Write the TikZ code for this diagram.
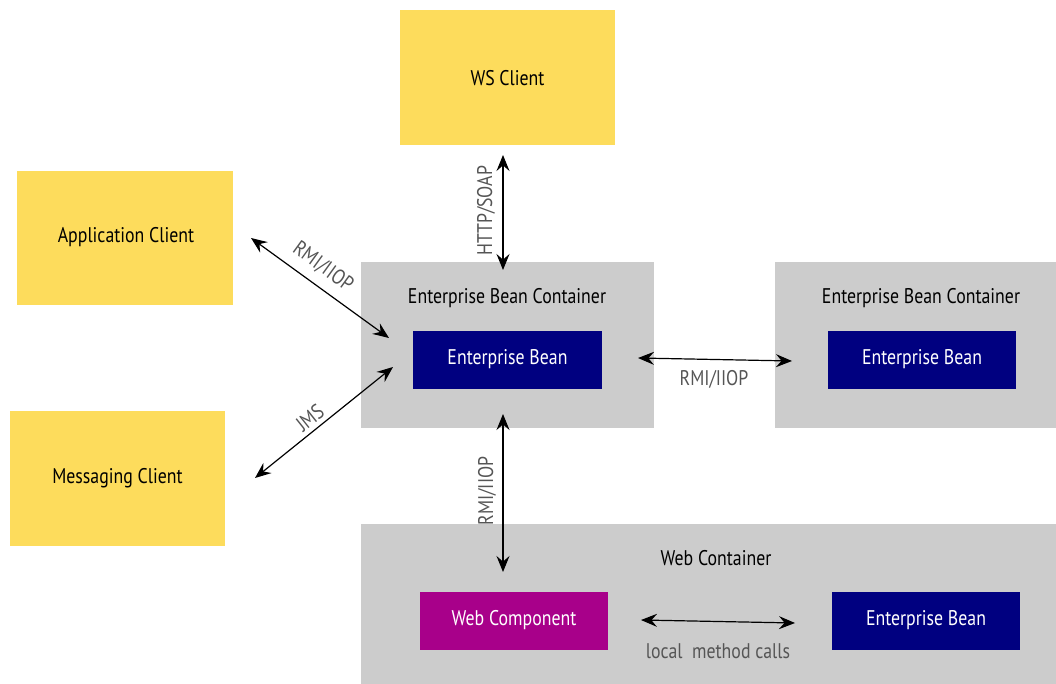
\documentclass[tikz,border=0pt]{standalone}
\usepackage{fontspec}
\setmainfont{PT Sans}[FakeStretch=0.84]
\usetikzlibrary{arrows.meta}
\definecolor{clientyellow}{HTML}{FDDC5C}
\definecolor{contgray}{HTML}{CCCCCC}
\definecolor{beannavy}{HTML}{000080}
\definecolor{webmagenta}{HTML}{A8008A}
\definecolor{labelgray}{HTML}{555555}
\begin{document}
\begin{tikzpicture}[x=0.5pt,y=-0.5pt,
  client/.style={fill=clientyellow,draw=none},
  container/.style={fill=contgray,draw=none},
  bean/.style={fill=beannavy,draw=none},
  webcomp/.style={fill=webmagenta,draw=none},
  lbl/.style={font=\fontsize{10.6}{12}\selectfont,text=black,inner sep=0pt},
  wlbl/.style={font=\fontsize{10.6}{12}\selectfont,text=white,inner sep=0pt},
  alabel/.style={font=\fontsize{10.6}{12}\selectfont,text=labelgray,inner sep=0pt},
  conn/.style={{Stealth[length=8pt,width=6.5pt,inset=2.8pt]}-{Stealth[length=8pt,width=6.5pt,inset=2.8pt]},line width=0.6pt,black}
]
\useasboundingbox (0,0) rectangle (1056,684);
% clients
\fill[client] (400,10) rectangle (615,145);
\node[lbl] (ws) at (507.5,78) {WS Client};
\fill[client] (17,171) rectangle (233,305);
\node[lbl] (app) at (126,237) {Application Client};
\fill[client] (10,411) rectangle (225,546);
\node[lbl] (msg) at (117.5,478) {Messaging Client};
% containers
\fill[container] (361,262) rectangle (654,428);
\node[lbl] (ejbc1) at (507,298) {Enterprise Bean Container};
\fill[bean] (413,331) rectangle (602,389);
\node[wlbl] (eb1) at (507.5,359) {Enterprise Bean};
\fill[container] (775,262) rectangle (1056,428);
\node[lbl] (ejbc2) at (921,298) {Enterprise Bean Container};
\fill[bean] (828,331) rectangle (1016,389);
\node[wlbl] (eb2) at (922,359) {Enterprise Bean};
\fill[container] (361,524) rectangle (1056,684);
\node[lbl] (webc) at (716,558) {Web Container};
\fill[webcomp] (420,592) rectangle (608,650);
\node[wlbl] (wc) at (514,620) {Web Component};
\fill[bean] (832,592) rectangle (1020,650);
\node[wlbl] (eb3) at (926,620) {Enterprise Bean};
% connector end points
\coordinate (hsA) at (503,155);
\coordinate (hsB) at (503,270);
\coordinate (raA) at (251,238);
\coordinate (raB) at (389,338);
\coordinate (jmA) at (255,478);
\coordinate (jmB) at (393,367);
\coordinate (rhA) at (638,358);
\coordinate (rhB) at (792,361);
\coordinate (rvA) at (503,414);
\coordinate (rvB) at (503,572);
\coordinate (lmA) at (641,620);
\coordinate (lmB) at (795,623);
\draw[conn] (hsA) -- (hsB);
\draw[conn] (raA) -- (raB);
\draw[conn] (jmA) -- (jmB);
\draw[conn] (rhA) -- (rhB);
\draw[conn] (rvA) -- (rvB);
\draw[conn] (lmA) -- (lmB);
% labels
\node[alabel,rotate=90] (lhs) at (486,211) {HTTP/SOAP};
\node[alabel,rotate=-36] (lra) at (323,267) {RMI/IIOP};
\node[alabel,rotate=38.5] (ljm) at (310,418) {JMS};
\node[alabel] (lrh) at (714,379) {RMI/IIOP};
\node[alabel,rotate=90] (lrv) at (487,491) {RMI/IIOP};
\node[alabel] (llm) at (718,651) {local\ \ method calls};
\end{tikzpicture}
\end{document}
